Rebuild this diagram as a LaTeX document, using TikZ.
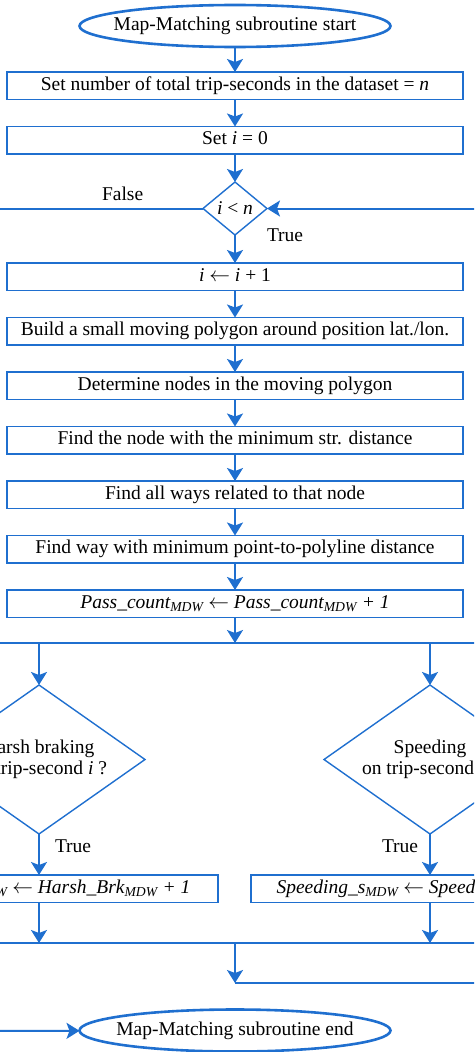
\documentclass[tikz,border=0pt]{standalone}
\usepackage{fontspec}
\setmainfont{Liberation Serif}
\usepackage{tikz}
\usetikzlibrary{positioning,arrows.meta,shapes.geometric}
\definecolor{mmblue}{HTML}{1F6FCF}
\newcommand{\mdw}{\textsubscript{\itshape MDW}}

\begin{document}
\begin{tikzpicture}[
   x=1pt, y=-1pt,
   node distance=27pt,
   every node/.style={font=\fontsize{19.5}{21}\selectfont, outer sep=0pt},
   terminal/.style={draw=mmblue, line width=2.6pt, ellipse, minimum width=311pt,
                    minimum height=42pt, inner xsep=-12pt, inner ysep=0pt},
   process/.style={draw=mmblue, line width=1.8pt, minimum width=456pt,
                   minimum height=27.5pt, inner sep=0pt, text height=13pt, text depth=4pt},
   update/.style={process, minimum width=358pt},
   decision/.style={draw=mmblue, line width=1.4pt, diamond, shape aspect=1.4,
                    inner sep=0pt, align=center},
   lbl/.style={inner sep=0pt, anchor=base west},
   flow/.style={draw=mmblue, line width=2pt},
   bus/.style={draw=mmblue, line width=1.5pt},
   >={Stealth[length=13pt, width=16pt, inset=3pt]}]
  \useasboundingbox (0,0) rectangle (474,1052);
  \clip (0,0) rectangle (474,1052);

  \node[terminal] (start) at (235,26) {Map-Matching subroutine start};
  \node[process, below=25pt of start] (total) {Set number of total trip-seconds in the dataset = \textit{n}};
  \node[process, below=of total] (init) {Set \textit{i} = 0};
  \node[decision, minimum width=64pt, minimum height=53pt, below=28pt of init] (cond) {\textit{i} < \textit{n}};
  \node[process, below=28pt of cond] (incr) {\textit{i} $\leftarrow$ \textit{i} + 1};
  \node[process, below=of incr] (poly) {Build a small moving polygon around position lat./lon.};
  \node[process, below=of poly] (innodes) {Determine nodes in the moving polygon};
  \node[process, below=of innodes] (nearest) {Find the node with the minimum str. distance};
  \node[process, below=of nearest] (ways) {Find all ways related to that node};
  \node[process, below=of ways] (bestway) {Find way with minimum point-to-polyline distance};
  \node[process, below=of bestway] (pass) {\itshape Pass\_count\mdw\ $\leftarrow$ Pass\_count\mdw\ + 1};

  \coordinate (split) at (235,643);
  \coordinate (splitL) at (-20,643);
  \coordinate (splitR) at (500,643);
  \node[decision, minimum width=212pt, minimum height=149pt] (harsh) at (39,759.5) {Harsh braking\\on trip-second \textit{i} ?};
  \node[decision, minimum width=212pt, minimum height=149pt] (speed) at (430,759.5) {Speeding\\on trip-second \textit{i} ?};
  \node[update, below=41pt of harsh] (harshinc) {\itshape Harsh\_Brk\mdw\ $\leftarrow$ Harsh\_Brk\mdw\ + 1};
  \node[update, below=41pt of speed] (speedinc) {\itshape Speeding\_s\mdw\ $\leftarrow$ Speeding\_s\mdw\ + 1};

  \coordinate (join) at (235,943);
  \coordinate (joinL) at (-20,943);
  \coordinate (joinR) at (500,943);
  \coordinate (back) at (235,983);
  \coordinate (backR) at (500,983);
  \coordinate (falseL) at (-20,209.5);
  \coordinate (loopR) at (500,209.5);
  \coordinate (exitL) at (-20,1031);
  \node[terminal] (end) at (235,1030.5) {Map-Matching subroutine end};

  \node[lbl] (falselbl) at (102,200) {False};
  \node[lbl] (truecond) at (267,241) {True};
  \node[lbl] (trueharsh) at (55,852) {True};
  \node[lbl] (truespeed) at (382,852) {True};

  \draw[flow,->] (start) -- (total);
  \foreach \a/\b in {total/init, init/cond, cond/incr, incr/poly, poly/innodes,
                     innodes/nearest, nearest/ways, ways/bestway, bestway/pass}
    \draw[flow,->] (\a) -- (\b);
  \draw[flow,->] (pass) -- (split);
  \draw[bus] (splitL) -- (splitR);
  \draw[flow,->] (harsh |- split) -- (harsh);
  \draw[flow,->] (speed |- split) -- (speed);
  \draw[flow,->] (harsh) -- (harshinc);
  \draw[flow,->] (speed) -- (speedinc);
  \draw[flow,->] (harshinc) -- (harsh |- join);
  \draw[flow,->] (speedinc) -- (speed |- join);
  \draw[bus] (joinL) -- (joinR);
  \draw[flow,->] (join) -- (back);
  \draw[bus] (back) -- (backR);
  \draw[flow] (cond.west) -- (cond.west -| falseL);
  \draw[flow,->] (cond.east -| loopR) -- (cond.east);
  \draw[flow,->] (exitL) -- (end);
\end{tikzpicture}
\end{document}
